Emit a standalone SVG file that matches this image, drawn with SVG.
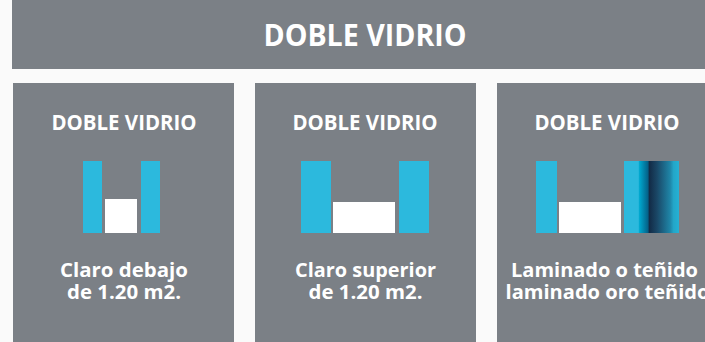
<svg xmlns="http://www.w3.org/2000/svg" width="705" height="342" viewBox="0 0 705 342">
<style>
.p{fill:#7b8086}
.c{fill:#2cb9dd}
.w{fill:#fff}
text{font-family:"Open Sans","Noto Sans","Liberation Sans",sans-serif;font-weight:700;fill:#fff;text-anchor:middle}
.h{font-size:21px}
.l{font-size:20px}
</style>
<defs>
<linearGradient id="g" gradientUnits="userSpaceOnUse" x1="624" y1="0" x2="679" y2="0">
<stop offset="0" stop-color="#2cb9dd"/>
<stop offset=".26" stop-color="#2cb9dd"/>
<stop offset=".28" stop-color="#00a8cf"/>
<stop offset=".44" stop-color="#045f86"/>
<stop offset=".455" stop-color="#122a45"/>
<stop offset=".6" stop-color="#1a4766"/>
<stop offset=".84" stop-color="#1f86a8"/>
<stop offset=".9" stop-color="#23a6c8"/>
<stop offset="1" stop-color="#25b1d5"/>
</linearGradient>
</defs>
<rect width="705" height="342" fill="#fafafa"/>
<g id="header">
<rect class="p" x="12" y="0" width="693" height="69"/>
<text x="365" y="46" font-size="30" textLength="203" lengthAdjust="spacingAndGlyphs">DOBLE VIDRIO</text>
</g>
<g id="card1">
<rect class="p" x="13" y="83" width="221" height="259"/>
<text class="h" x="124" y="130" textLength="145" lengthAdjust="spacingAndGlyphs">DOBLE VIDRIO</text>
<rect class="c" x="83" y="161" width="19" height="72"/>
<rect class="w" x="105" y="199" width="32" height="34"/>
<rect class="c" x="141" y="161" width="19" height="72"/>
<text class="l" x="124" y="277" textLength="128" lengthAdjust="spacingAndGlyphs">Claro debajo</text>
<text class="l" x="124" y="299" textLength="114" lengthAdjust="spacingAndGlyphs">de 1.20 m2.</text>
</g>
<g id="card2">
<rect class="p" x="255" y="83" width="221" height="259"/>
<text class="h" x="365" y="130" textLength="145" lengthAdjust="spacingAndGlyphs">DOBLE VIDRIO</text>
<rect class="c" x="301" y="161" width="30" height="72"/>
<rect class="w" x="333" y="202" width="62" height="31"/>
<rect class="c" x="399" y="161" width="30" height="72"/>
<text class="l" x="365.500" y="277" textLength="141" lengthAdjust="spacingAndGlyphs">Claro superior</text>
<text class="l" x="365.500" y="299" textLength="114" lengthAdjust="spacingAndGlyphs">de 1.20 m2.</text>
</g>
<g id="card3">
<rect class="p" x="497" y="83" width="208" height="259"/>
<text class="h" x="607" y="130" textLength="145" lengthAdjust="spacingAndGlyphs">DOBLE VIDRIO</text>
<rect class="c" x="536" y="161" width="21" height="72"/>
<rect class="w" x="559" y="202" width="62" height="31"/>
<rect x="624" y="161" width="55" height="72" fill="url(#g)"/>
<text class="l" x="604.500" y="277" textLength="187" lengthAdjust="spacingAndGlyphs">Laminado o teñido</text>
<text class="l" x="607.500" y="299" textLength="204" lengthAdjust="spacingAndGlyphs">laminado oro teñido</text>
</g>
</svg>
